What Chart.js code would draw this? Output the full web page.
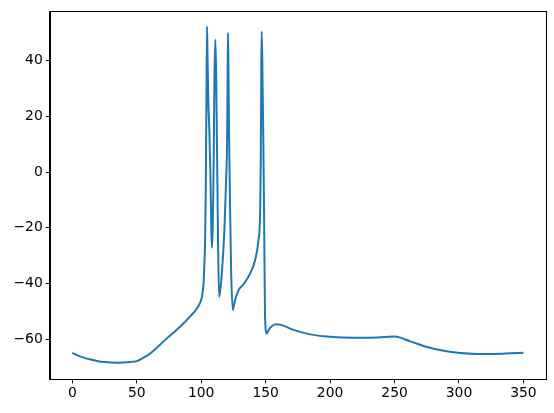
<!DOCTYPE html>
<html>
<head>
<meta charset="utf-8">
<title>Membrane potential</title>
<script src="https://cdn.jsdelivr.net/npm/chart.js@4.4.1/dist/chart.umd.min.js"></script>
<style>
  html, body { margin: 0; padding: 0; background: #fff; }
  #wrap { width: 554px; height: 413px; }
</style>
</head>
<body>
<div id="wrap"><canvas id="chart" width="554" height="413"></canvas></div>
<script>
/* ── Data (time in ms, voltage in mV) ─── */
const timePoints = [
  0, 5, 10, 15, 20, 25, 30, 35, 40, 45, 50,
  55, 60.5, 66, 73.4, 80, 86.4, 92, 96.7, 99, 100.6, 101.8, 102.4, 103, 103.5, 104, 104.5,
  104.8, 105.5, 106.3, 107, 107.6, 108.2, 108.8, 109.3, 109.8, 110.3, 111.0,
  111.6, 112.1, 112.6, 113.2, 113.9, 114.6, 116, 118, 119.3, 120.1, 120.5, 120.8,
  121.2, 121.6, 122.3, 123.2, 124.5, 125.3, 126.3, 128.9, 131.5, 134.1, 137.9, 141.8,
  144.4, 145.7, 146.2, 146.6, 146.9, 147.4, 148.1, 148.8, 149.5, 150.8,
  152.5, 155, 158, 162, 171.7, 184.6, 197.6, 210, 223.4, 237, 250,
  262.2, 275.2, 288.1, 301, 313.9, 326.9, 340, 350
];
const voltage = [
  -64.8, -65.9, -66.7, -67.3, -67.8, -68.1, -68.3, -68.35, -68.3, -68.1, -67.8,
  -66.6, -65.0, -62.8, -59.6, -57.0, -54.2, -51.5, -48.9, -47.0, -44.7, -40.0, -33.9, -25, -8, 22, 52.2,
  45, 26, 15, 2, -13, -27.1, -22, -10, 10, 35, 47.5,
  35, 15, -5, -30, -44.7, -43, -36.4, -20.9, -3.0, 11.3, 35, 49.9,
  35, 14.9, -10, -35, -49.5, -48, -45.9, -42.4, -40.9, -39.4, -36.4, -31.6,
  -24.5, -14.9, 3, 35, 50.4, 40, 15, -15.5, -51.3, -57.9,
  -56.5, -55.2, -54.6, -54.8, -56.6, -58.2, -59.0, -59.3, -59.4, -59.3, -59.0,
  -60.7, -62.7, -64.1, -64.9, -65.2, -65.2, -65.0, -64.8
];

/* Tick labels as matplotlib placed them */
const xTicks = [0, 50, 100, 150, 200, 250, 300, 350];
const yTicks = [-60, -40, -20, 0, 20, 40];

/* ── Build the point list for Chart.js ───────────────────────── */
const points = timePoints.map((t, i) => ({ x: t, y: voltage[i] }));

/* matplotlib uses a real minus sign */
function fmt(v) {
  return String(v).replace("-", "\u2212");
}

/* Draw all four spines like a matplotlib axes box */
const frame = {
  id: "frame",
  afterDraw(chart) {
    const { ctx, chartArea: a } = chart;
    ctx.save();
    ctx.strokeStyle = "#000";
    ctx.lineWidth = 1;
    ctx.strokeRect(Math.round(a.left) + 0.5, Math.round(a.top) + 0.5,
      Math.round(a.right - a.left), Math.round(a.bottom - a.top));
    ctx.restore();
  },
};

const tickFont = { family: "'DejaVu Sans', sans-serif", size: 13.9 };

new Chart(document.getElementById("chart"), {
  type: "line",
  data: {
    datasets: [{
      data: points,
      borderColor: "#1f77b4",
      borderWidth: 2,
      pointRadius: 0,
      fill: false,
      cubicInterpolationMode: "monotone",
    }],
  },
  options: {
    responsive: false,
    animation: false,
    devicePixelRatio: 1,
    layout: { padding: { left: 0, top: 11, right: 8, bottom: 0 } },
    plugins: { legend: { display: false }, tooltip: { enabled: false } },
    scales: {
      x: {
        type: "linear",
        min: -17.5,
        max: 367.5,
        afterBuildTicks: (s) => { s.ticks = xTicks.map((v) => ({ value: v })); },
        afterFit: (s) => { s.height = 33.7; },
        ticks: { color: "#000", font: tickFont, padding: 2, maxRotation: 0, callback: fmt },
        grid: { drawOnChartArea: false, drawTicks: true, tickLength: 4, color: "#000" },
        border: { display: true, color: "#000" },
      },
      y: {
        min: -74.3,
        max: 57.6,
        afterBuildTicks: (s) => { s.ticks = yTicks.map((v) => ({ value: v })); },
        afterFit: (s) => { s.width = 49.75; },
        ticks: { color: "#000", font: tickFont, padding: 3, callback: fmt },
        grid: { drawOnChartArea: false, drawTicks: true, tickLength: 4, color: "#000" },
        border: { display: true, color: "#000" },
      },
    },
  },
  plugins: [frame],
});
</script>
</body>
</html>
